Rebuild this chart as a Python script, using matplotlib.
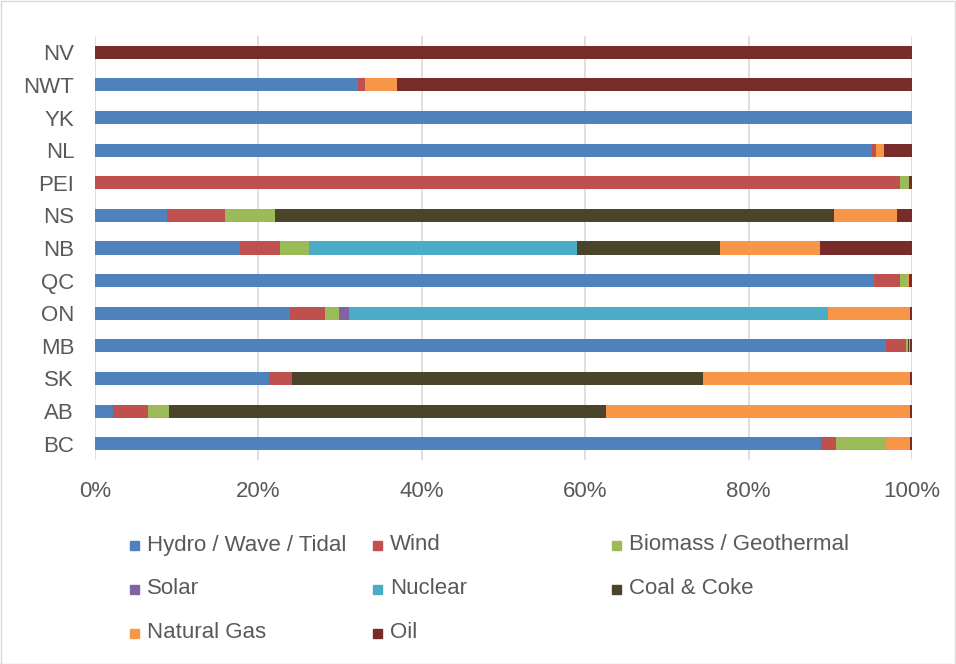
import matplotlib
matplotlib.use("Agg")
import matplotlib.pyplot as plt
from matplotlib.patches import Rectangle
from matplotlib.ticker import FuncFormatter

# provinces / territories, bottom to top
regions = ["BC", "AB", "SK", "MB", "ON", "QC", "NB", "NS", "PEI", "NL", "YK", "NWT", "NV"]

# share of generation (%) by source
hydro   = [88.9, 2.25, 21.3, 96.8, 23.9, 95.3, 17.75, 8.85, 0.0, 95.1, 100.0, 32.2, 0.0]
wind    = [1.8, 4.25, 2.8, 2.5, 4.3, 3.2, 4.85, 7.05, 98.5, 0.45, 0.0, 0.8, 0.0]
biomass = [6.1, 2.5, 0.0, 0.2, 1.7, 0.9, 3.6, 6.1, 1.1, 0.0, 0.0, 0.0, 0.0]
solar   = [0.0, 0.0, 0.0, 0.0, 1.2, 0.0, 0.0, 0.0, 0.0, 0.0, 0.0, 0.0, 0.0]
nuclear = [0.0, 0.0, 0.0, 0.0, 58.6, 0.0, 32.8, 0.0, 0.0, 0.0, 0.0, 0.0, 0.0]
coal    = [0.0, 53.6, 50.3, 0.1, 0.0, 0.0, 17.5, 68.4, 0.0, 0.0, 0.0, 0.0, 0.0]
gas     = [2.95, 37.2, 25.4, 0.2, 10.05, 0.2, 12.3, 7.8, 0.0, 1.05, 0.0, 4.0, 0.0]
oil     = [0.25, 0.2, 0.2, 0.2, 0.25, 0.4, 11.2, 1.8, 0.4, 3.4, 0.0, 63.0, 100.0]

series = [
    ("Hydro / Wave / Tidal", hydro, "#4F81BD"),
    ("Wind", wind, "#C0504D"),
    ("Biomass / Geothermal", biomass, "#9BBB59"),
    ("Solar", solar, "#8064A2"),
    ("Nuclear", nuclear, "#4BACC6"),
    ("Coal & Coke", coal, "#4A452A"),
    ("Natural Gas", gas, "#F79646"),
    ("Oil", oil, "#772C2A"),
]

plt.rcParams['font.family'] = ['Liberation Sans', 'DejaVu Sans']
text_color = "#595959"
fs = 16

W, H = 956, 664
fig = plt.figure(figsize=(W / 100, H / 100), dpi=100)
ax = fig.add_axes([95 / W, 1 - 460 / H, (912 - 95) / W, (460 - 36) / H])

y = list(range(len(regions)))
left = [0.0] * len(regions)
for name, vals, color in series:
    ax.barh(y, vals, left=left, height=0.4, color=color, label=name, zorder=3)
    left = [a + b for a, b in zip(left, vals)]

ax.set_xlim(0, 100)
ax.set_ylim(-0.5, len(regions) - 0.5)
ax.set_xticks([0, 20, 40, 60, 80, 100])
ax.xaxis.set_major_formatter(FuncFormatter(lambda v, p: f"{int(v)}%"))
ax.set_yticks(y)
ax.set_yticklabels(regions)
ax.grid(axis="x", color="#D9D9D9", linewidth=1.2, zorder=0)
for s in ax.spines.values():
    s.set_visible(False)
ax.tick_params(axis="both", length=0, colors=text_color, labelsize=fs)
ax.tick_params(axis="x", pad=15)
ax.tick_params(axis="y", pad=15)

# legend, laid out like the Excel one (3 even columns)
col_x = [130, 373, 612]
row_y = [545, 589, 633]
for i, (name, vals, color) in enumerate(series):
    cx = col_x[i % 3]
    cy = row_y[i // 3]
    fig.add_artist(Rectangle(((cx) / W, 1 - (cy + 4.5) / H), 9 / W, 9 / H,
                             transform=fig.transFigure, color=color))
    fig.text((cx + 17) / W, 1 - cy / H, name, color=text_color,
             fontsize=fs, va="center", ha="left")

# chart border
fig.add_artist(Rectangle((0.5 / W, 0.5 / H), 1 - 1.5 / W, 1 - 1.5 / H,
                         transform=fig.transFigure, fill=False,
                         edgecolor="#D9D9D9", linewidth=1))

fig.savefig("out.png", dpi=100)
